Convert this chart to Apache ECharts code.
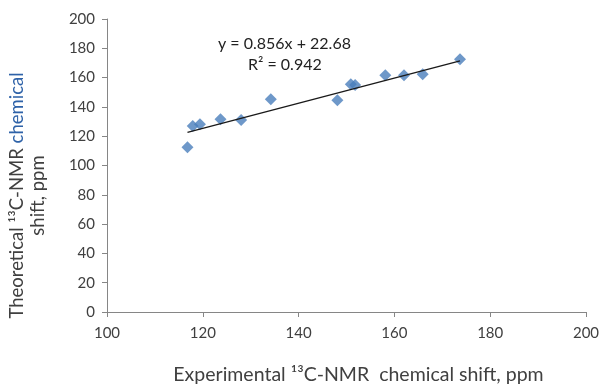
<!DOCTYPE html>
<html>
<head>
<meta charset="utf-8">
<script src="https://cdn.jsdelivr.net/npm/echarts@6/dist/echarts.min.js"></script>
<style>
  html, body { margin: 0; padding: 0; background: #fff; }
  #chart { width: 601px; height: 387px; }
</style>
</head>
<body>
<div id="chart"></div>
<script>
// experimental vs theoretical 13C shifts
const experimental = [116.8, 117.9, 119.4, 123.7, 128.0, 134.2, 148.1, 150.9, 151.8, 158.1, 162.0, 165.9, 173.7]
const theoretical = [112.5, 126.9, 128.1, 131.5, 131.0, 145.2, 144.5, 155.5, 155.0, 161.6, 161.6, 162.3, 172.6]

const xTicks = [100, 120, 140, 160, 180, 200]
const yTicks = [0, 20, 40, 60, 80, 100, 120, 140, 160, 180, 200]

// trendline as printed on the chart
const slope = 0.856
const intercept = 22.68
const equationText = 'y = 0.856x + 22.68'
const r2Text = 'R² = 0.942'

const font = 'Lato, "Open Sans", sans-serif'
const axisGray = '#868686'
const textColor = '#404040'

const points = experimental.map((x, i) => [x, theoretical[i]])
const xMin = Math.min(...experimental)
const xMax = Math.max(...experimental)
const trend = [[xMin, slope * xMin + intercept], [xMax, slope * xMax + intercept]]

const chart = echarts.init(document.getElementById('chart'))

chart.setOption({
  animation: false,
  grid: { left: 107, right: 15, top: 19, bottom: 75, containLabel: false, outerBoundsMode: 'none' },
  xAxis: {
    type: 'value',
    min: xTicks[0],
    max: xTicks[xTicks.length - 1],
    interval: 20,
    name: 'Experimental ¹³C-NMR  chemical shift, ppm',
    nameLocation: 'middle',
    nameGap: 53,
    nameTextStyle: { fontFamily: font, fontSize: 19.5, color: textColor, padding: [0, 0, 0, 24] },
    axisLine: { lineStyle: { color: axisGray, width: 1 } },
    axisTick: { show: true, length: 5, lineStyle: { color: axisGray } },
    axisLabel: { fontFamily: font, fontSize: 15, color: textColor, margin: 14 },
    splitLine: { show: false }
  },
  yAxis: {
    type: 'value',
    min: yTicks[0],
    max: yTicks[yTicks.length - 1],
    interval: 20,
    name: '{t|Theoretical ¹³C-NMR }{b|chemical}\n{t|shift, ppm}',
    nameLocation: 'middle',
    nameRotate: 90,
    nameGap: 58,
    nameTextStyle: {
      fontFamily: font,
      fontSize: 18.5,
      color: textColor,
      lineHeight: 21,
      padding: [0, 60, 0, 0],
      rich: {
        t: { fontFamily: font, fontSize: 18.5, color: textColor, lineHeight: 21 },
        b: { fontFamily: font, fontSize: 18.5, color: '#2e62a8', lineHeight: 21 }
      }
    },
    axisLine: { show: true, lineStyle: { color: axisGray, width: 1 } },
    axisTick: { show: true, length: 5, lineStyle: { color: axisGray } },
    axisLabel: { fontFamily: font, fontSize: 15, color: textColor, margin: 12 },
    splitLine: { show: false }
  },
  graphic: [
    {
      type: 'text',
      left: 218, top: 36,
      style: { text: equationText, fontFamily: font, fontSize: 16, fill: '#222' }
    },
    {
      type: 'text',
      left: 248, top: 57,
      style: { text: r2Text, fontFamily: font, fontSize: 16, fill: '#222' }
    }
  ],
  series: [
    {
      type: 'line',
      data: trend,
      symbol: 'none',
      lineStyle: { color: '#1a1a1a', width: 1.3 },
      z: 3
    },
    {
      type: 'scatter',
      data: points,
      symbol: 'diamond',
      symbolSize: 12,
      itemStyle: { color: '#4a7ebb' },
      z: 2
    }
  ]
})
</script>
</body>
</html>
